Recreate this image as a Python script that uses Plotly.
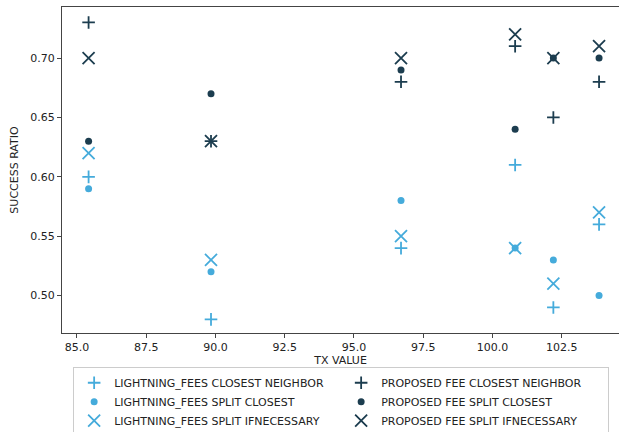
import plotly.graph_objects as go

tx_value = [85.42, 89.84, 96.7, 100.82, 102.2, 103.85]

lf_closest_neighbor = [0.60, 0.48, 0.54, 0.61, 0.49, 0.56]
lf_split_closest = [0.59, 0.52, 0.58, 0.54, 0.53, 0.50]
lf_split_ifnecessary = [0.62, 0.53, 0.55, 0.54, 0.51, 0.57]
pf_closest_neighbor = [0.73, 0.63, 0.68, 0.71, 0.65, 0.68]
pf_split_closest = [0.63, 0.67, 0.69, 0.64, 0.70, 0.70]
pf_split_ifnecessary = [0.70, 0.63, 0.70, 0.72, 0.70, 0.71]

LIGHT = "#45abdb"
DARK = "#1c3d4f"
FONT = "DejaVu Sans"

def cross(name, y, color):
    return go.Scatter(x=tx_value, y=y, mode="markers", name=name,
                      marker=dict(symbol="cross-thin", size=9, color=color,
                                  line=dict(color=color, width=1.8)))

def dot(name, y, color):
    return go.Scatter(x=tx_value, y=y, mode="markers", name=name,
                      marker=dict(symbol="circle", size=7, color=color,
                                  line=dict(width=0)))

def xmark(name, y, color):
    return go.Scatter(x=tx_value, y=y, mode="markers", name=name,
                      marker=dict(symbol="x-thin", size=12, color=color,
                                  line=dict(color=color, width=1.8)))

fig = go.Figure()
# order chosen so a 2-wide horizontal legend fills column-wise like the reference
fig.add_trace(cross("LIGHTNING_FEES CLOSEST NEIGHBOR", lf_closest_neighbor, LIGHT))
fig.add_trace(cross("PROPOSED FEE CLOSEST NEIGHBOR", pf_closest_neighbor, DARK))
fig.add_trace(dot("LIGHTNING_FEES SPLIT CLOSEST", lf_split_closest, LIGHT))
fig.add_trace(dot("PROPOSED FEE SPLIT CLOSEST", pf_split_closest, DARK))
fig.add_trace(xmark("LIGHTNING_FEES SPLIT IFNECESSARY", lf_split_ifnecessary, LIGHT))
fig.add_trace(xmark("PROPOSED FEE SPLIT IFNECESSARY", pf_split_ifnecessary, DARK))

fig.update_layout(
    width=619, height=432,
    margin=dict(l=62, r=0, t=7, b=99, autoexpand=False),
    paper_bgcolor="white", plot_bgcolor="white",
    font=dict(family=FONT, size=11, color="#222"),
    showlegend=True,
    legend=dict(orientation="h", x=0.02, xanchor="left", y=-0.105, yanchor="top",
                entrywidth=222, entrywidthmode="pixels",
                bordercolor="#cccccc", borderwidth=1, bgcolor="white",
                font=dict(family=FONT, size=11, color="#222"),
                itemwidth=30),
)
fig.update_xaxes(range=[84.46, 104.57], tickvals=[85, 87.5, 90, 92.5, 95, 97.5, 100, 102.5],
                 ticktext=["85.0", "87.5", "90.0", "92.5", "95.0", "97.5", "100.0", "102.5"],
                 showgrid=False, zeroline=False, showline=True, linecolor="#444", linewidth=1,
                 mirror=True, ticks="outside", ticklen=4, tickcolor="#444",
                 title=dict(text="TX VALUE", standoff=2, font=dict(size=11)))
fig.update_yaxes(range=[0.4685, 0.743], tickvals=[0.50, 0.55, 0.60, 0.65, 0.70],
                 ticktext=["0.50", "0.55", "0.60", "0.65", "0.70"],
                 showgrid=False, zeroline=False, showline=True, linecolor="#444", linewidth=1,
                 mirror=False, ticks="outside", ticklen=4, tickcolor="#444",
                 title=dict(text="SUCCESS RATIO", standoff=9, font=dict(size=11)))

fig.write_html("out.html")
